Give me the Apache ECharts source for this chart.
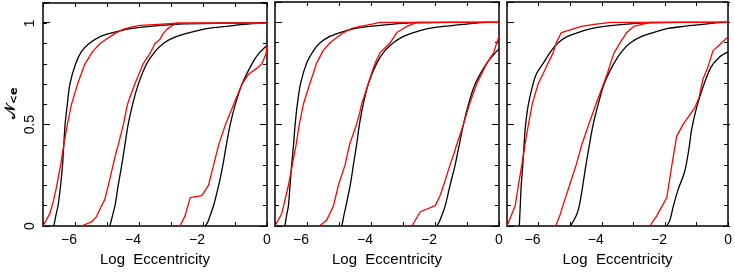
<!DOCTYPE html>
<html>
<head>
<meta charset="utf-8">
<script src="https://cdn.jsdelivr.net/npm/echarts@6.0.0/dist/echarts.min.js"></script>
<style>
html,body{margin:0;padding:0;background:#fff;}
#chart{width:735px;height:277px;}
</style>
</head>
<body>
<div id="chart"></div>
<script>
// ---- tick labels / axis text ----
const xTickLabels = [-6, -4, -2, 0];
const yTickLabels = [0, 0.5, 1];
const xAxisTitle = 'Log  Eccentricity';

// ---- Panel 1 ----
const p1Black1 = [[-6.66,0],[-6.6,0.05],[-6.53,0.1],[-6.45,0.2],[-6.39,0.3],[-6.35,0.4],[-6.31,0.5],[-6.24,0.6],[-6.16,0.7],[-5.98,0.8],[-5.8,0.86],[-5.56,0.9],[-5.2,0.935],[-4.91,0.95],[-4.4,0.97],[-3.97,0.98],[-3.3,0.99],[-2.6,0.997],[-1.5,1],[0,1]];
const p1Red1 = [[-7,0],[-6.79,0.06],[-6.68,0.12],[-6.58,0.19],[-6.45,0.3],[-6.35,0.4],[-6.24,0.5],[-6.11,0.6],[-5.92,0.7],[-5.69,0.8],[-5.45,0.86],[-5.22,0.9],[-4.75,0.95],[-4.5,0.97],[-4.28,0.98],[-3.97,0.99],[-3.4,0.995],[-2.82,1],[0,1]];
const p1Black2 = [[-4.91,0],[-4.83,0.05],[-4.75,0.1],[-4.65,0.2],[-4.54,0.3],[-4.44,0.4],[-4.34,0.5],[-4.2,0.6],[-4.02,0.7],[-3.76,0.8],[-3.5,0.86],[-3.24,0.9],[-2.9,0.93],[-2.51,0.95],[-2.0,0.97],[-1.57,0.98],[-1.0,0.99],[-0.2,1],[0,1]];
const p1Red2 = [[-5.8,0],[-5.48,0.02],[-5.33,0.046],[-5.2,0.09],[-5.07,0.13],[-4.96,0.2],[-4.81,0.3],[-4.72,0.36],[-4.65,0.4],[-4.49,0.5],[-4.36,0.6],[-4.25,0.65],[-4.13,0.7],[-3.87,0.8],[-3.66,0.85],[-3.5,0.9],[-3.35,0.92],[-3.24,0.95],[-3.13,0.97],[-2.95,0.99],[-2.82,1],[0,1]];
const p1Black3 = [[-1.93,0],[-1.85,0.02],[-1.78,0.05],[-1.67,0.1],[-1.51,0.2],[-1.38,0.3],[-1.27,0.4],[-1.15,0.5],[-0.99,0.6],[-0.78,0.7],[-0.47,0.8],[-0.26,0.85],[0,0.89]];
const p1Red3 = [[-2.72,0],[-2.56,0.05],[-2.4,0.14],[-2.04,0.15],[-1.83,0.2],[-1.67,0.3],[-1.51,0.4],[-1.3,0.5],[-1.04,0.6],[-0.78,0.7],[-0.57,0.75],[-0.3,0.78],[-0.16,0.8],[-0.03,0.85],[0,0.89]];

// ---- Panel 2 ----
const p2Black1 = [[-6.69,0],[-6.64,0.05],[-6.58,0.1],[-6.53,0.2],[-6.48,0.3],[-6.42,0.4],[-6.37,0.5],[-6.3,0.6],[-6.2,0.7],[-6.01,0.8],[-5.8,0.86],[-5.59,0.9],[-5.3,0.93],[-4.97,0.95],[-4.5,0.97],[-4.03,0.98],[-3.4,0.99],[-2.78,0.997],[-1.5,1],[0,1]];
const p2Red1 = [[-7,0],[-6.79,0.06],[-6.58,0.2],[-6.46,0.3],[-6.34,0.4],[-6.24,0.5],[-6.11,0.6],[-5.91,0.7],[-5.7,0.8],[-5.5,0.86],[-5.28,0.9],[-4.86,0.95],[-4.6,0.97],[-4.34,0.98],[-4.0,0.99],[-3.72,1],[0,1]];
const p2Black2 = [[-4.91,0],[-4.85,0.05],[-4.78,0.1],[-4.65,0.2],[-4.55,0.3],[-4.45,0.4],[-4.36,0.5],[-4.24,0.6],[-4.08,0.7],[-3.82,0.8],[-3.57,0.86],[-3.3,0.9],[-3.0,0.93],[-2.67,0.95],[-2.2,0.97],[-1.73,0.98],[-1.1,0.99],[-0.38,1],[0,1]];
const p2Red2 = [[-5.61,0],[-5.38,0.03],[-5.26,0.07],[-5.17,0.1],[-5.02,0.2],[-4.81,0.3],[-4.67,0.4],[-4.45,0.5],[-4.36,0.55],[-4.29,0.6],[-4.08,0.7],[-3.98,0.75],[-3.87,0.8],[-3.72,0.85],[-3.4,0.9],[-3.19,0.95],[-2.88,0.98],[-2.57,1],[0,1]];
const p2Black3 = [[-1.94,0],[-1.87,0.02],[-1.79,0.05],[-1.68,0.1],[-1.53,0.2],[-1.37,0.3],[-1.24,0.4],[-1.11,0.5],[-0.95,0.6],[-0.74,0.7],[-0.38,0.8],[-0.12,0.85],[0,0.87]];
const p2Red3 = [[-2.72,0],[-2.46,0.07],[-1.99,0.1],[-1.84,0.15],[-1.73,0.2],[-1.53,0.3],[-1.42,0.35],[-1.32,0.4],[-1.11,0.5],[-0.92,0.6],[-0.69,0.7],[-0.38,0.8],[-0.17,0.85],[-0.07,0.9],[0,0.93]];

// ---- Panel 3 ----
const p3Black1 = [[-6.61,0],[-6.58,0.1],[-6.55,0.2],[-6.5,0.3],[-6.46,0.4],[-6.41,0.5],[-6.32,0.6],[-6.17,0.7],[-6.06,0.75],[-5.85,0.8],[-5.6,0.86],[-5.38,0.9],[-5.1,0.93],[-4.76,0.95],[-4.3,0.97],[-3.92,0.98],[-3.3,0.99],[-2.67,0.997],[-1.5,1],[0,1]];
const p3Red1 = [[-7,0],[-6.74,0.1],[-6.64,0.2],[-6.53,0.3],[-6.43,0.4],[-6.32,0.5],[-6.2,0.6],[-6.01,0.7],[-5.85,0.75],[-5.7,0.8],[-5.54,0.85],[-5.44,0.9],[-5.28,0.95],[-5.07,0.96],[-4.65,0.98],[-4.24,0.99],[-3.72,1],[0,1]];
const p3Black2 = [[-4.99,0],[-4.81,0.05],[-4.71,0.1],[-4.6,0.2],[-4.5,0.3],[-4.39,0.4],[-4.27,0.5],[-4.11,0.6],[-3.92,0.7],[-3.61,0.8],[-3.35,0.86],[-3.09,0.9],[-2.75,0.93],[-2.36,0.95],[-1.9,0.97],[-1.42,0.98],[-0.8,0.99],[-0.17,1],[0,1]];
const p3Red2 = [[-5.46,0],[-5.33,0.05],[-5.23,0.1],[-5.02,0.2],[-4.81,0.3],[-4.63,0.4],[-4.41,0.5],[-4.18,0.6],[-3.94,0.7],[-3.82,0.75],[-3.72,0.8],[-3.61,0.85],[-3.42,0.9],[-3.21,0.95],[-2.99,0.98],[-2.46,1],[0,1]];
const p3Black3 = [[-1.94,0],[-1.84,0.03],[-1.73,0.1],[-1.58,0.18],[-1.37,0.27],[-1.23,0.39],[-1.16,0.47],[-1.0,0.58],[-0.8,0.68],[-0.54,0.78],[-0.27,0.83],[0,0.855]];
const p3Red3 = [[-2.48,0],[-2.26,0.05],[-1.94,0.14],[-1.79,0.29],[-1.63,0.44],[-1.42,0.5],[-1.06,0.58],[-0.92,0.63],[-0.8,0.72],[-0.64,0.78],[-0.48,0.86],[-0.27,0.89],[0,0.93]];

const panels = [
  {black:[p1Black1,p1Black2,p1Black3], red:[p1Red1,p1Red2,p1Red3]},
  {black:[p2Black1,p2Black2,p2Black3], red:[p2Red1,p2Red2,p2Red3]},
  {black:[p3Black1,p3Black2,p3Black3], red:[p3Red1,p3Red2,p3Red3]}
];

const FONT = "'Liberation Sans', Arial, sans-serif";
const gridPos = [
  {left:43, top:2, width:224, height:224},
  {left:275, top:2, width:224, height:224},
  {left:507, top:2, width:223, height:224}
];
const lineStyleAxis = {color:'#000', width:1.5};
const tickStyle = {color:'#000', width:1};

const grid = [], xAxis = [], yAxis = [], series = [];
gridPos.forEach((g, i) => {
  // main grid
  const gi = grid.length;
  grid.push(Object.assign({}, g));
  const xb = xAxis.length;
  xAxis.push({
    type:'value', gridIndex:gi, min:-7, max:0, interval:1, position:'bottom',
    axisLine:{show:true, onZero:false, lineStyle:lineStyleAxis},
    axisTick:{show:true, inside:true, length:4, lineStyle:tickStyle},
    splitLine:{show:false},
    axisLabel:{
      show:true, margin:7, color:'#000', fontFamily:FONT, fontSize:14,
      showMinLabel:true, showMaxLabel:true, hideOverlap:false,
      formatter: v => {
        const r = Math.round(v);
        if (!xTickLabels.includes(r)) return '';
        return r === 0 ? '{z|0}' : '{n|\u2212' + Math.abs(r) + '}';
      },
      rich:{
        z:{fontFamily:FONT, fontSize:14, color:'#000'},
        n:{fontFamily:FONT, fontSize:14, color:'#000', padding:[0,12,0,0]}
      }
    },
    name:xAxisTitle, nameLocation:'middle', nameGap:25,
    nameTextStyle:{fontFamily:FONT, fontSize:15, color:'#000'}
  });
  xAxis.push({
    type:'value', gridIndex:gi, min:-7, max:0, interval:1, position:'top',
    axisLine:{show:true, onZero:false, lineStyle:lineStyleAxis},
    axisTick:{show:true, inside:true, length:4, lineStyle:tickStyle},
    splitLine:{show:false}, axisLabel:{show:false}
  });
  const yl = yAxis.length;
  yAxis.push({
    type:'value', gridIndex:gi, min:0, max:1.1, interval:0.1, position:'left',
    axisLine:{show:true, onZero:false, lineStyle:lineStyleAxis},
    axisTick:{show:true, inside:true, length:4, lineStyle:tickStyle},
    splitLine:{show:false},
    axisLabel:{
      show: i === 0, rotate:90, margin:6, color:'#000', fontFamily:FONT, fontSize:14,
      hideOverlap:false,
      formatter: v => {
        for (const t of yTickLabels) if (Math.abs(v - t) < 1e-6) return String(t);
        return '';
      }
    },
    name: i === 0 ? '{n|\uD835\uDCA9}{s|<e}' : '', nameLocation:'middle', nameGap:23, nameRotate:90,
    nameTextStyle:{
      padding:[0,0,0,22],
      rich:{
        n:{fontFamily:"'DejaVu Sans', 'Noto Sans', serif", fontSize:15, fontWeight:'bold', color:'#000'},
        s:{fontFamily:"'DejaVu Sans', sans-serif", fontSize:11, fontWeight:'bold', color:'#000', padding:[6,0,0,1]}
      }
    }
  });
  yAxis.push({
    type:'value', gridIndex:gi, min:0, max:1.1, interval:0.1, position:'right',
    axisLine:{show:true, onZero:false, lineStyle:lineStyleAxis},
    axisTick:{show:true, inside:true, length:4, lineStyle:tickStyle},
    splitLine:{show:false}, axisLabel:{show:false}
  });
  panels[i].black.forEach(d => series.push({
    type:'line', xAxisIndex:xb, yAxisIndex:yl, data:d, showSymbol:false, smooth:0.3,
    lineStyle:{color:'#000', width:1.3}, clip:true, silent:true
  }));
  panels[i].red.forEach(d => series.push({
    type:'line', xAxisIndex:xb, yAxisIndex:yl, data:d, showSymbol:false, smooth:false,
    lineStyle:{color:'#ff0000', width:1.3}, clip:true, silent:true
  }));

  // overlay grid for the longer major y ticks (0, 0.5, 1)
  const go = grid.length;
  grid.push(Object.assign({}, g));
  xAxis.push({type:'value', gridIndex:go, min:-7, max:0, show:false, axisLine:{onZero:false}});
  yAxis.push({
    type:'value', gridIndex:go, min:0, max:1.1, interval:0.5, position:'left',
    axisLine:{show:false, onZero:false}, axisTick:{show:true, inside:true, length:7, lineStyle:tickStyle},
    splitLine:{show:false}, axisLabel:{show:false}
  });
  yAxis.push({
    type:'value', gridIndex:go, min:0, max:1.1, interval:0.5, position:'right',
    axisLine:{show:false, onZero:false}, axisTick:{show:true, inside:true, length:7, lineStyle:tickStyle},
    splitLine:{show:false}, axisLabel:{show:false}
  });
});

const chart = echarts.init(document.getElementById('chart'), null, {renderer:'canvas'});
chart.setOption({animation:false, backgroundColor:'#fff', grid, xAxis, yAxis, series});
</script>
</body>
</html>
